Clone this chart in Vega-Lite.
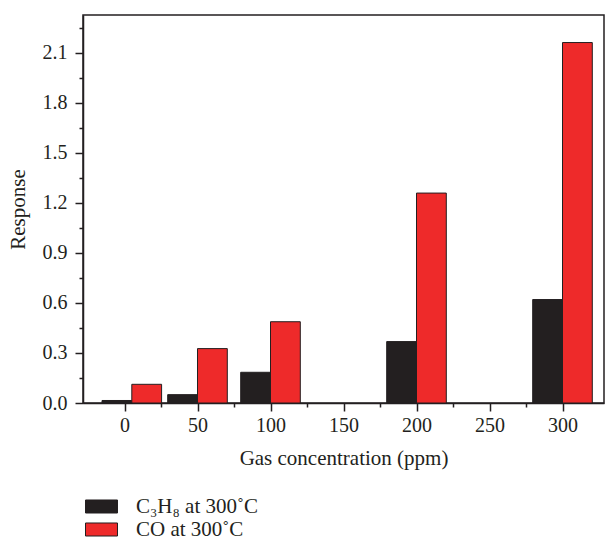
{
  "$schema": "https://vega.github.io/schema/vega-lite/v6.json",
  "width": 521,
  "height": 388,
  "autosize": "none",
  "padding": {"left": 83, "top": 15, "right": 1, "bottom": 138},
  "background": "white",
  "config": {
    "font": "Liberation Serif",
    "view": {"stroke": "#231f20", "strokeWidth": 1.5},
    "axis": {
      "domainColor": "#231f20",
      "domainWidth": 1.5,
      "tickColor": "#231f20",
      "tickWidth": 1.5,
      "labelColor": "#231f20",
      "titleColor": "#231f20",
      "labelFont": "Liberation Serif",
      "titleFont": "Liberation Serif",
      "labelFontSize": 20,
      "titleFontSize": 21,
      "titleFontWeight": "normal",
      "grid": false
    },
    "legend": {"padding": 0}
  },
  "data": {
    "values": [
      {"conc": 5, "gas": "C3H8", "response": 0.015},
      {"conc": 5, "gas": "CO", "response": 0.112},
      {"conc": 50, "gas": "C3H8", "response": 0.05},
      {"conc": 50, "gas": "CO", "response": 0.326},
      {"conc": 100, "gas": "C3H8", "response": 0.184},
      {"conc": 100, "gas": "CO", "response": 0.487},
      {"conc": 200, "gas": "C3H8", "response": 0.368},
      {"conc": 200, "gas": "CO", "response": 1.258},
      {"conc": 300, "gas": "C3H8", "response": 0.62},
      {"conc": 300, "gas": "CO", "response": 2.16}
    ]
  },
  "resolve": {"axis": {"x": "independent", "y": "independent"}},
  "layer": [
    {
      "transform": [{"filter": {"field": "gas", "equal": "C3H8"}}],
      "mark": {"type": "bar", "width": 29.8, "xOffset": -14.9, "stroke": "#231f20", "strokeWidth": 1},
      "encoding": {
        "x": {
          "field": "conc", "type": "quantitative",
          "scale": {"domain": [-25, 325], "nice": false, "zero": false},
          "axis": {"orient": "bottom", "values": [0, 50, 100, 150, 200, 250, 300], "tickSize": 8, "labelPadding": 4, "title": "Gas concentration (ppm)", "titlePadding": 12, "labelFlush": false}
        },
        "y": {
          "field": "response", "type": "quantitative",
          "scale": {"domain": [0, 2.325], "nice": false},
          "axis": {"orient": "left", "values": [0, 0.3, 0.6, 0.9, 1.2, 1.5, 1.8, 2.1], "format": ".1f", "tickSize": 8, "labelPadding": 8, "title": "Response", "titlePadding": 14, "labelFlush": false}
        },
        "color": {
          "field": "gas", "type": "nominal",
          "scale": {"domain": ["C3H8", "CO"], "range": ["#231f20", "#ee2a2a"]},
          "legend": {
            "title": null,
            "orient": "none",
            "legendX": -1,
            "legendY": 481,
            "symbolType": "M-1,-0.93H3.57V0.93H-1Z",
            "symbolSize": 196,
            "symbolStrokeColor": "#231f20",
            "symbolStrokeWidth": 1,
            "symbolOpacity": 1,
            "labelFont": "Liberation Serif",
            "labelFontSize": 21,
            "labelColor": "#231f20",
            "labelOffset": 33,
            "rowPadding": 1,
            "labelExpr": "datum.label === 'C3H8' ? 'C₃H₈ at 300˚C' : 'CO at 300˚C'"
          }
        }
      }
    },
    {
      "transform": [{"filter": {"field": "gas", "equal": "CO"}}],
      "mark": {"type": "bar", "width": 29.8, "xOffset": 14.9, "stroke": "#231f20", "strokeWidth": 1},
      "encoding": {
        "x": {
          "field": "conc", "type": "quantitative",
          "axis": {"orient": "bottom", "values": [25, 75, 125, 175, 225, 275], "tickSize": 4, "labels": false, "domain": false, "title": null}
        },
        "y": {
          "field": "response", "type": "quantitative",
          "axis": {"orient": "left", "values": [0.15, 0.45, 0.75, 1.05, 1.35, 1.65, 1.95, 2.25], "tickSize": 4, "labels": false, "domain": false, "title": null}
        },
        "color": {"field": "gas", "type": "nominal"}
      }
    }
  ]
}
